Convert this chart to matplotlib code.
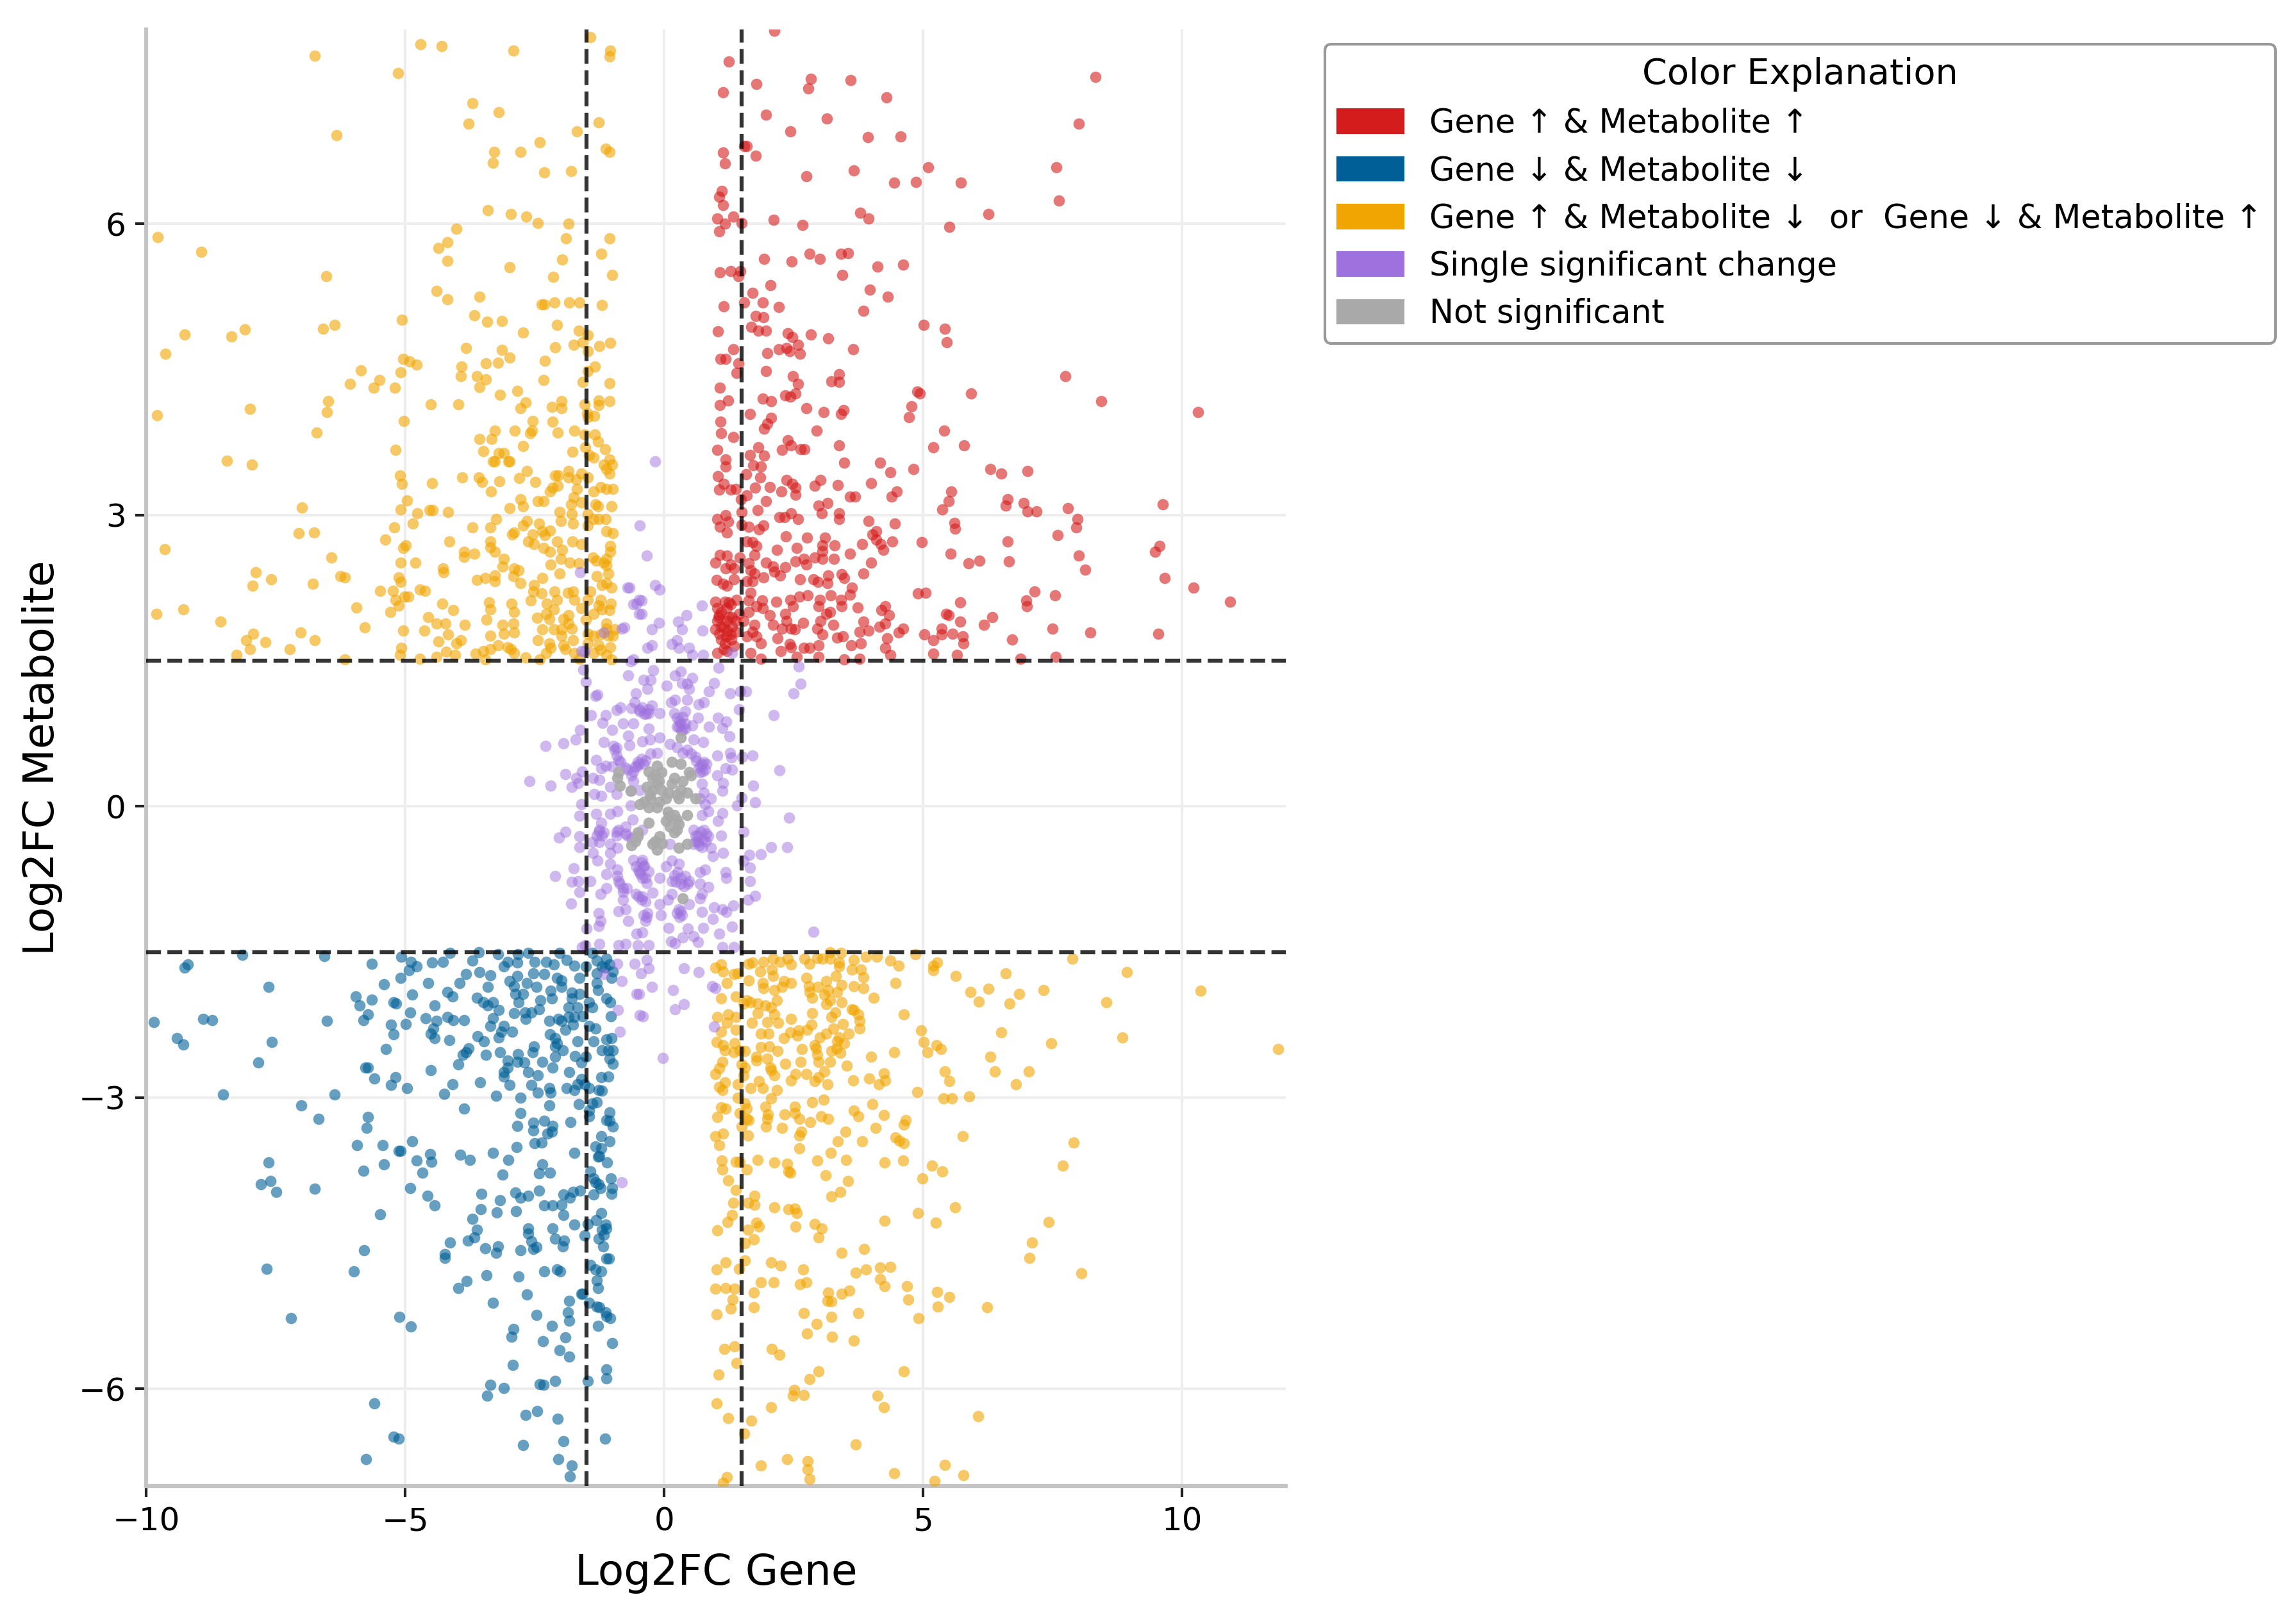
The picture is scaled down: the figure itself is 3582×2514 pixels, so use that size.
import numpy as np
import matplotlib
matplotlib.use("Agg")
import matplotlib.pyplot as plt
from matplotlib.patches import Patch

x_ticks = [-10, -5, 0, 5, 10]
y_ticks = [-6, -3, 0, 3, 6]
thresholds = [-1.5, 1.5]
legend_labels = ["Gene ↑ & Metabolite ↑", "Gene ↓ & Metabolite ↓",
                 "Gene ↑ & Metabolite ↓  or  Gene ↓ & Metabolite ↑",
                 "Single significant change", "Not significant"]

gene_up_met_up = [
(2.12,7.99),(1.25,7.67),(1.78,7.44),(2.83,7.49),(3.60,7.48),(2.78,7.39),(1.13,7.35),(8.33,7.51),(4.29,7.30),(1.96,7.12),(3.14,7.08),(8.00,7.03),(2.44,6.95),(3.93,6.89),(4.56,6.90),(1.54,6.80),(1.60,6.80),(1.14,6.73),(1.77,6.70),(1.17,6.62),(5.09,6.58),(7.57,6.58),(3.66,6.55),(2.74,6.49),(4.44,6.42),(4.86,6.43),(5.73,6.42),(1.11,6.34),(1.06,6.28),(7.62,6.24),(1.14,6.19),(3.79,6.11),(6.26,6.10),(1.02,6.05),(1.34,6.07),(3.94,6.05),(2.11,6.04),(1.17,6.00),(1.49,6.01),(2.67,5.99),(5.51,5.97),(1.06,5.92),
(2.81,5.69),(3.41,5.69),(3.55,5.70),(1.93,5.64),(3.00,5.64),(2.46,5.61),(4.12,5.56),(4.61,5.58),(1.07,5.50),(1.29,5.51),(1.47,5.51),(1.43,5.46),(3.44,5.47),(2.05,5.37),(3.97,5.32),(1.71,5.29),(4.31,5.25),(1.90,5.19),(1.55,5.19),(1.15,5.15),(2.21,5.14),(3.85,5.10),(1.77,5.05),(1.92,5.04),(5.01,4.96),(1.68,4.94),(5.42,4.92),(1.82,4.90),(1.97,4.90),(1.04,4.89),(2.39,4.87),(2.83,4.86),(2.47,4.83),(3.16,4.82),(5.45,4.78),(2.58,4.75),(1.34,4.71),(2.21,4.71),(2.36,4.72),(2.42,4.69),(3.65,4.71),(1.99,4.67),(2.62,4.66),(1.09,4.61),(1.19,4.61),(1.43,4.56),(1.97,4.48),(1.40,4.46),(3.37,4.45),(2.49,4.43),(3.23,4.38),(3.38,4.37),(7.74,4.43),(2.58,4.35),(1.07,4.31),(4.88,4.27),(4.93,4.25),(5.92,4.25),(2.34,4.23),(2.44,4.22),(2.54,4.25),(1.90,4.20),(2.07,4.17),(1.24,4.18),(1.07,4.13),(8.44,4.17),(4.78,4.12),(2.74,4.10),(3.08,4.06),(3.46,4.08),(3.41,4.04),(1.66,4.04),(10.31,4.06),(4.72,4.01),(2.06,4.00),(1.09,3.96),(1.99,3.94),(1.93,3.89),(2.94,3.87),(5.41,3.87),(1.10,3.84),(1.33,3.80),(2.39,3.77),(2.45,3.72),(2.63,3.68),(2.71,3.68),(3.38,3.72),(5.79,3.72),(5.19,3.70),(1.82,3.70),(2.27,3.67),(1.02,3.67),(1.93,3.61),(1.65,3.62),(1.19,3.57),(1.19,3.50),(3.48,3.54),(4.17,3.54),(1.72,3.51),(1.86,3.50),(4.81,3.47),(6.30,3.47),(6.50,3.43),(7.01,3.45),(4.37,3.44),(1.58,3.42),(1.04,3.40),(1.85,3.39),(2.36,3.36),(3.02,3.36),(2.47,3.32),(2.54,3.28),(3.99,3.33),(2.91,3.30),(3.35,3.31),(1.15,3.32),(1.06,3.26),(1.29,3.26),(1.38,3.27),(1.76,3.28),(2.04,3.29),(2.26,3.24),(2.54,3.21),(4.49,3.24),(5.54,3.24),(3.58,3.19),(3.68,3.19),(1.60,3.20),(1.48,3.16),(4.39,3.19),(1.96,3.14),(5.49,3.14),(6.63,3.16),(6.94,3.12),(9.62,3.11),(3.15,3.12),(2.98,3.10),(6.59,3.10),(5.37,3.06),(7.01,3.04),(7.19,3.04),(7.79,3.07),(1.81,3.05),(3.04,3.02),(3.37,3.02),(1.49,3.03),(2.45,3.02),
(2.22,2.98),(2.33,2.98),(2.58,2.96),(1.19,3.00),(1.02,2.96),(1.24,2.93),(3.38,2.96),(3.94,2.94),(7.98,2.96),(4.45,2.91),(5.60,2.92),(1.49,2.90),(1.63,2.88),(1.92,2.89),(1.83,2.85),(1.07,2.88),(5.62,2.86),(7.96,2.87),(1.21,2.82),(4.09,2.83),(4.02,2.80),(2.35,2.78),(2.76,2.77),(3.10,2.77),(7.59,2.79),(4.09,2.75),(4.40,2.73),(6.63,2.73),(4.97,2.72),(1.60,2.73),(1.70,2.72),(3.06,2.69),(3.29,2.69),(3.82,2.70),(4.18,2.70),(9.56,2.68),(9.48,2.62),(1.78,2.68),(2.56,2.66),(2.18,2.64),(4.23,2.64),(3.06,2.63),(5.53,2.60),(3.58,2.60),(8.00,2.58),(1.08,2.59),(1.21,2.58),(1.46,2.56),(1.74,2.59),(2.91,2.56),(3.06,2.55),(3.28,2.55),(2.70,2.55),(2.54,2.52),(1.97,2.51),(5.88,2.50),(6.09,2.53),(6.66,2.52),(3.99,2.51),(2.75,2.49),(1.63,2.50),(1.28,2.49),(2.10,2.47),(2.34,2.46),(8.13,2.44),(1.19,2.45),(1.35,2.45),(1.67,2.43),(0.99,2.51),(2.13,2.42),(1.74,2.40),(3.84,2.40),(2.24,2.38),(3.16,2.38),(3.43,2.39),(3.47,2.35),(9.66,2.35),(1.92,2.36),(2.62,2.34),(2.88,2.34),(1.01,2.33),(1.35,2.34),(1.60,2.32),(1.70,2.32),(1.14,2.29),(1.21,2.27),(2.97,2.31),(3.15,2.30),
(10.22,2.25),(10.92,2.11),(3.62,2.25),(7.15,2.21),(1.67,2.20),(4.90,2.19),(5.05,2.20),(7.54,2.17),(2.61,2.16),(2.77,2.17),(3.22,2.17),(3.58,2.18),(1.40,2.13),(1.63,2.12),(1.89,2.12),(2.16,2.11),(2.43,2.13),(3.01,2.13),(3.41,2.13),(6.99,2.12),(5.71,2.10),(0.99,2.11),(1.17,2.11),(1.28,2.08),(2.49,2.06),(2.98,2.06),(3.42,2.06),(3.73,2.05),(7.00,2.06),(1.78,2.06),(1.90,2.04),(1.03,2.04),(1.21,2.04),(4.27,2.06),(4.19,2.02),(1.63,2.00),(3.20,2.00),(2.34,1.98),(2.04,1.97),(1.06,1.97),(1.31,1.95),(5.44,1.98),(5.49,1.97),(6.33,1.95),(4.34,1.97),(3.13,1.98),(2.36,1.91),(3.02,1.91),(1.03,1.91),(1.21,1.91),(1.38,1.91),(1.53,1.91),(5.71,1.90),(2.68,1.89),(3.85,1.90),(4.27,1.88),(6.17,1.87),(2.10,1.87),(3.26,1.87),(1.74,1.87),(4.16,1.85),(1.10,1.85),(1.31,1.85),(0.99,1.82),(1.21,1.81),(4.61,1.83),(7.50,1.83),(8.22,1.79),(9.54,1.78),(2.95,1.83),(2.27,1.83),(2.45,1.83),(2.52,1.82),(1.70,1.80),(3.77,1.80),(3.95,1.81),(4.53,1.79),(5.35,1.83),(5.57,1.78),(5.35,1.77),(1.06,1.78),(1.28,1.77),(3.06,1.77),(5.02,1.77),(5.76,1.75),(1.60,1.75),(1.78,1.75),(2.19,1.73),(3.34,1.74),(3.45,1.75),(4.30,1.73),(5.19,1.71),(6.72,1.72),(5.77,1.68),(1.86,1.68),(1.17,1.68),(2.42,1.67),(2.98,1.66),(3.80,1.68),(3.61,1.66),(4.27,1.63),(2.70,1.63),(2.81,1.63),(2.45,1.64),(2.25,1.60),(1.03,1.58),(1.21,1.60),(1.67,1.58),(5.19,1.57),(5.65,1.56),(4.37,1.56),(7.56,1.54),(6.88,1.52),(1.87,1.52),(2.56,1.54),(2.98,1.54),(3.48,1.51),(3.77,1.52),
(1.05,1.95),(1.15,1.85),(1.25,1.95),(1.10,2.00),(1.20,1.75),(1.30,1.72),(1.15,1.62),(1.35,1.65),(1.25,2.10),(1.10,1.72),(1.38,1.80),(1.45,1.98),
]

gene_down_met_down = [
(-8.15,-1.53),(-6.56,-1.54),(-9.26,-1.66),(-9.20,-1.63),(-5.65,-1.62),(-5.07,-1.55),(-4.89,-1.60),(-4.78,-1.65),(-4.93,-1.69),(-4.48,-1.61),(-4.27,-1.60),(-4.14,-1.51),(-3.70,-1.59),(-3.58,-1.50),(-3.21,-1.52),(-2.82,-1.52),(-2.62,-1.51),(-2.02,-1.51),(-3.02,-1.60),(-3.09,-1.65),(-2.84,-1.61),(-2.50,-1.60),(-2.28,-1.60),(-2.13,-1.63),(-1.88,-1.58),(-1.73,-1.64),(-1.51,-1.65),(-1.30,-1.59),(-1.11,-1.57),(-1.20,-1.65),(-1.05,-1.63),(-1.14,-1.66),(-1.39,-1.51),(-3.83,-1.73),(-3.56,-1.71),(-3.35,-1.74),(-5.09,-1.77),(-5.41,-1.83),(-4.55,-1.82),(-7.64,-1.86),(-3.95,-1.82),(-3.40,-1.86),(-2.84,-1.75),(-2.99,-1.80),(-2.65,-1.82),(-2.53,-1.72),(-2.31,-1.73),(-2.07,-1.77),(-1.98,-1.79),(-1.64,-1.77),(-1.30,-1.72),(-0.99,-1.70),(-1.02,-1.77),(-2.90,-1.85),(-2.47,-1.86),(-2.19,-1.90),(-1.98,-1.86),(-1.30,-1.82),(-1.28,-1.89),(-1.79,-1.92),(-1.64,-1.93),(-4.86,-1.94),(-4.19,-1.91),(-4.09,-1.96),(-2.87,-1.93),(-2.73,-1.93),(-2.17,-1.98),(-3.61,-1.97),(-5.96,-1.96),(-5.64,-1.99),(-5.22,-2.02),(-5.18,-2.03),(-3.49,-2.02),(-3.30,-2.02),(-3.40,-2.05),(-2.81,-2.02),(-2.39,-2.00),(-1.79,-1.98),(-1.45,-2.02),(-1.39,-2.07),(-1.11,-1.98),(-1.04,-2.02),(-5.88,-2.05),(-4.43,-2.05),(-4.90,-2.12),(-3.19,-2.10),(-2.90,-2.13),(-2.69,-2.12),(-2.56,-2.12),(-2.41,-2.09),(-1.85,-2.07),(-1.67,-2.07),(-1.57,-2.16),(-5.72,-2.14),(-5.81,-2.20),(-6.51,-2.21),(-9.85,-2.22),(-8.90,-2.19),(-8.73,-2.20),(-4.61,-2.18),(-4.19,-2.17),(-4.07,-2.20),(-3.86,-2.20),(-3.30,-2.18),(-2.67,-2.19),(-2.22,-2.21),(-2.04,-2.19),(-1.98,-2.21),(-1.85,-2.17),(-1.73,-2.17),(-1.03,-2.16),(-4.99,-2.24),(-5.27,-2.25),(-4.40,-2.21),(-3.36,-2.26),(-3.10,-2.26),(-4.46,-2.29),(-4.51,-2.34),(-5.23,-2.35),(-4.43,-2.39),(-3.15,-2.32),(-2.93,-2.32),(-1.76,-2.25),(-1.91,-2.30),(-1.45,-2.26),(-1.33,-2.29),(-3.60,-2.37),(-3.48,-2.42),(-3.19,-2.38),(-4.15,-2.41),(-2.21,-2.35),(-2.10,-2.39),(-2.07,-2.44),(-1.67,-2.42),(-1.36,-2.42),(-1.02,-2.39),(-1.11,-2.40),(-9.40,-2.39),(-9.28,-2.45),(-7.57,-2.43),(-5.37,-2.50),(-3.77,-2.49),(-3.83,-2.53),(-3.89,-2.56),(-2.51,-2.47),(-2.10,-2.47),(-1.96,-2.51),(-1.20,-2.51),(-1.08,-2.51),(-0.99,-2.51),(-3.44,-2.56),(-3.17,-2.53),(-2.82,-2.55),(-2.54,-2.53),(-1.72,-2.57),(-1.51,-2.58),(-2.10,-2.58),(-1.05,-2.60),(-7.83,-2.64),(-3.98,-2.66),(-3.02,-2.62),(-2.84,-2.63),(-2.70,-2.64),(-2.35,-2.63),(-1.60,-2.64),(-0.99,-2.65),(-5.77,-2.69),(-5.72,-2.69),(-2.15,-2.69),(-3.02,-2.69),(-4.51,-2.72),(-3.10,-2.74),(-2.62,-2.74),(-1.83,-2.74),(-3.10,-2.78),(-2.44,-2.77),(-5.59,-2.80),(-5.19,-2.79),(-1.22,-2.79),(-1.08,-2.78),(-3.55,-2.84),(-4.09,-2.86),(-5.27,-2.87),(-2.99,-2.87),(-2.56,-2.87),(-1.60,-2.81),(-1.67,-2.86),(-1.54,-2.86),(-4.97,-2.90),(-2.22,-2.90),(-1.88,-2.90),(-1.73,-2.92),(-1.45,-2.90),(-1.27,-2.92),(-1.20,-2.93),(-8.52,-2.97),(-6.36,-2.97),(-4.25,-2.96),(-3.24,-2.98),(-2.44,-2.95),(-2.19,-2.95),
(-2.78,-3.00),(-1.65,-3.07),(-1.39,-3.06),(-1.30,-3.05),(-2.22,-3.08),(-7.01,-3.08),(-3.86,-3.11),(-1.45,-3.13),(-2.78,-3.16),(-1.06,-3.15),(-1.45,-3.19),(-5.72,-3.20),(-1.11,-3.23),(-1.05,-3.24),(-6.67,-3.22),(-2.31,-3.24),(-1.81,-3.25),(-2.53,-3.26),(-2.83,-3.29),(-2.16,-3.29),(-5.74,-3.31),(-0.99,-3.30),(-2.53,-3.34),(-2.17,-3.35),(-2.25,-3.37),(-1.22,-3.40),(-4.86,-3.45),(-5.93,-3.49),(-5.44,-3.49),(-1.05,-3.45),(-2.50,-3.47),(-2.36,-3.46),(-2.85,-3.51),(-1.33,-3.50),(-1.22,-3.52),(-5.12,-3.55),(-5.09,-3.55),(-3.30,-3.57),(-4.52,-3.58),(-1.73,-3.57),(-3.94,-3.59),(-1.28,-3.61),(-1.25,-3.60),(-3.01,-3.64),(-3.75,-3.64),(-4.78,-3.65),(-4.49,-3.66),(-7.64,-3.67),(-5.41,-3.69),(-1.10,-3.67),(-2.35,-3.69),(-5.80,-3.75),(-1.42,-3.76),(-4.67,-3.77),(-2.42,-3.78),(-2.21,-3.77),(-3.12,-3.79),(-1.36,-3.83),(-1.03,-3.83),(-1.33,-3.87),(-1.27,-3.89),(-7.60,-3.86),(-7.78,-3.89),(-4.90,-3.93),(-6.75,-3.94),(-1.23,-3.93),(-1.00,-3.93),(-7.49,-3.97),(-3.53,-3.99),(-2.87,-3.98),(-2.77,-4.03),(-2.62,-4.01),(-2.42,-3.96),(-1.76,-3.97),(-1.62,-3.96),(-1.94,-4.00),(-1.82,-4.03),(-1.36,-4.00),(-1.02,-3.99),(-4.57,-4.01),(-4.43,-4.11),(-3.17,-4.06),(-2.31,-4.11),(-2.15,-4.11),(-1.98,-4.10),(-3.54,-4.15),(-3.23,-4.18),(-2.86,-4.17),(-5.48,-4.20),(-1.95,-4.21),(-1.22,-4.19),(-3.70,-4.25),(-1.31,-4.26),(-1.73,-4.31),(-1.48,-4.30),(-1.13,-4.31),(-2.62,-4.35),(-2.15,-4.35),(-3.61,-4.36),(-1.20,-4.36),(-1.11,-4.35),(-2.62,-4.40),(-1.17,-4.41),(-1.54,-4.42),(-1.27,-4.45),(-3.67,-4.44),(-3.79,-4.47),(-2.56,-4.48),(-2.11,-4.45),(-1.93,-4.47),(-4.13,-4.49),(-3.21,-4.53),(-3.46,-4.55),(-2.46,-4.54),(-2.53,-4.56),(-1.96,-4.53),(-1.18,-4.53),(-2.78,-4.57),(-5.79,-4.57),(-3.25,-4.60),(-4.23,-4.61),(-4.23,-4.65),(-1.11,-4.66),(-1.07,-4.66),(-1.43,-4.72),(-7.67,-4.76),(-2.07,-4.77),(-2.01,-4.79),(-2.32,-4.79),(-1.33,-4.77),(-1.22,-4.79),(-5.99,-4.79),(-3.43,-4.83),(-2.81,-4.84),(-3.81,-4.89),(-1.30,-4.88),(-3.97,-4.96),(-1.28,-4.96),(-2.65,-5.03),(-1.60,-5.02),(-1.57,-5.02),(-1.83,-5.09),(-3.31,-5.11),(-1.45,-5.11),(-1.30,-5.15),(-1.25,-5.16),(-1.86,-5.21),(-1.13,-5.21),(-2.47,-5.24),(-1.11,-5.25),(-1.04,-5.27),(-5.11,-5.26),(-7.20,-5.27),(-1.83,-5.30),(-4.89,-5.36),(-2.17,-5.35),(-1.28,-5.35),(-2.91,-5.38),(-2.95,-5.46),(-1.91,-5.47),(-2.34,-5.51),(-1.00,-5.53),(-2.02,-5.60),(-1.83,-5.67),(-2.92,-5.75),(-1.11,-5.80),(-1.11,-5.89),(-1.48,-5.92),(-2.10,-5.92),(-3.35,-5.96),(-2.40,-5.95),(-2.33,-5.96),(-3.09,-5.99),(-3.42,-6.07),(-5.60,-6.15),(-2.45,-6.23),(-2.68,-6.27),(-2.06,-6.31),(-5.22,-6.49),(-5.12,-6.51),(-1.14,-6.51),(-1.95,-6.54),(-2.72,-6.58),(-5.75,-6.72),(-2.04,-6.72),(-1.79,-6.79),(-1.82,-6.90),
]

opposite_upper_left = [
(-6.75,7.73),(-5.14,7.55),(-4.71,7.85),(-4.30,7.83),(-2.91,7.78),(-1.43,7.92),(-1.04,7.78),(-1.06,7.72),(-3.70,7.24),(-3.19,7.15),(-3.78,7.03),(-6.33,6.91),(-1.27,7.04),(-1.69,6.95),(-2.40,6.84),(-3.28,6.74),(-2.78,6.74),(-3.31,6.63),(-1.13,6.77),(-1.05,6.74),(-2.32,6.53),(-1.80,6.54),(-3.41,6.14),(-2.96,6.10),(-2.66,6.07),(-2.44,6.01),(-1.84,6.00),(-4.01,5.95),(-4.19,5.81),(-4.36,5.75),(-4.18,5.62),(-9.78,5.86),(-8.94,5.71),(-1.89,5.85),(-1.06,5.85),(-1.21,5.69),(-1.97,5.63),(-2.98,5.55),(-6.52,5.46),(-2.14,5.45),(-1.01,5.47),(-4.40,5.31),(-3.57,5.25),(-4.18,5.22),(-2.36,5.17),(-2.32,5.17),(-2.12,5.19),(-1.83,5.19),(-1.63,5.19),(-1.20,5.16),(-3.67,5.06),(-5.06,5.01),(-3.42,4.99),(-3.13,5.00),(-6.36,4.96),(-6.58,4.92),(-2.07,4.96),(-8.10,4.91),(-9.26,4.86),(-8.36,4.84),(-2.72,4.88),(-1.65,4.90),(-1.48,4.85),(-1.57,4.78),(-1.04,4.77),(-1.25,4.74),(-2.10,4.73),(-1.75,4.75),(-3.82,4.72),(-3.13,4.70),(-1.47,4.69),(-9.63,4.66),(-5.04,4.61),(-4.92,4.58),(-4.78,4.55),(-2.99,4.62),(-3.21,4.57),(-3.44,4.56),(-2.30,4.59),(-3.91,4.53),(-5.86,4.49),(-5.09,4.47),(-1.34,4.53),(-1.48,4.48),(-3.93,4.43),(-3.62,4.43),(-3.44,4.40),(-5.49,4.39),(-2.33,4.39),(-6.07,4.35),(-1.57,4.37),(-1.05,4.36),(-5.61,4.31),(-5.20,4.31),(-3.56,4.32),(-2.83,4.28),(-3.17,4.24),(-6.49,4.17),(-4.51,4.14),(-3.98,4.14),(-2.67,4.16),(-1.98,4.17),(-1.27,4.18),(-1.06,4.17),(-2.17,4.11),(-1.98,4.10),(-2.78,4.10),(-1.54,4.14),(-1.26,4.13),(-7.99,4.09),(-6.51,4.06),(-9.79,4.03),(-1.49,4.05),(-1.35,4.02),(-1.47,4.01),(-5.02,3.97),(-2.54,3.97),(-2.15,3.96),(-6.71,3.85),(-3.27,3.87),(-2.88,3.87),(-2.55,3.87),(-2.59,3.84),(-2.06,3.85),(-1.73,3.87),(-1.54,3.83),(-1.34,3.83),(-3.57,3.78),(-3.33,3.78),(-1.28,3.76),(-2.72,3.71),(-1.53,3.70),(-1.14,3.68),(-5.19,3.67),(-3.49,3.66),(-3.19,3.64),(-3.09,3.64),(-1.77,3.65),(-1.45,3.62),(-1.36,3.59),(-3.31,3.55),(-3.27,3.55),(-3.01,3.55),(-2.99,3.55),(-1.05,3.57),(-8.44,3.56),(-7.96,3.52),(-1.16,3.52),(-1.00,3.52),(-1.11,3.47),(-1.05,3.43),(-2.65,3.45),(-1.85,3.45),(-2.11,3.41),(-2.04,3.41),(-1.60,3.43),(-5.10,3.41),(-3.90,3.39),(-3.58,3.39),(-2.80,3.38),(-1.84,3.39),(-1.70,3.37),(-1.48,3.39),(-3.52,3.34),(-3.18,3.35),(-5.06,3.32),(-4.48,3.33),(-2.49,3.34),(-1.23,3.29),(-2.06,3.30),(-2.16,3.28),(-1.11,3.27),(-0.99,3.27),(-1.69,3.27),(-2.20,3.24),(-3.34,3.24),(-1.36,3.24),(-1.75,3.18),(-4.96,3.15),(-2.78,3.16),(-2.44,3.14),(-2.33,3.14),(-1.60,3.13),(-1.80,3.11),(-1.33,3.11),(-1.28,3.09),(-6.99,3.08),(-2.72,3.09),(-1.02,3.09),(-5.09,3.06),(-4.53,3.05),(-4.47,3.05),(-4.17,3.03),(-4.77,3.02),(-2.98,3.07),(-2.02,3.03),(-1.79,3.01),(-1.47,3.01),
(-3.24,2.96),(-1.99,2.94),(-1.76,2.91),(-1.36,2.96),(-1.13,2.96),(-1.27,2.96),(-4.85,2.91),(-2.65,2.94),(-2.42,2.91),(-2.73,2.89),(-5.21,2.87),(-3.70,2.87),(-3.36,2.87),(-1.47,2.89),(-6.76,2.82),(-7.06,2.81),(-2.94,2.80),(-2.90,2.82),(-2.35,2.83),(-2.21,2.84),(-1.11,2.83),(-0.99,2.81),(-2.54,2.80),(-2.30,2.79),(-5.38,2.75),(-4.15,2.73),(-3.36,2.73),(-2.07,2.73),(-2.62,2.73),(-2.52,2.70),(-1.77,2.73),(-1.60,2.70),(-4.99,2.69),(-5.04,2.66),(-9.64,2.65),(-3.35,2.67),(-3.27,2.62),(-2.33,2.66),(-2.21,2.62),(-1.97,2.64),(-1.04,2.68),(-1.04,2.62),(-3.86,2.62),(-3.86,2.57),(-3.66,2.60),(-1.99,2.55),(-1.38,2.56),(-1.31,2.53),(-6.42,2.56),(-3.10,2.55),(-3.12,2.47),(-1.11,2.55),(-1.16,2.51),(-5.09,2.51),(-4.80,2.51),(-2.19,2.49),(-1.82,2.51),(-1.65,2.50),(-1.11,2.48),(-1.08,2.40),(-4.27,2.45),(-4.26,2.41),(-2.90,2.45),(-2.81,2.43),(-7.88,2.41),(-2.02,2.40),(-3.27,2.38),(-2.91,2.37),(-6.25,2.37),(-6.16,2.36),(-5.12,2.36),(-7.59,2.34),(-3.46,2.35),(-3.62,2.33),(-3.27,2.32),(-2.35,2.35),(-1.30,2.37),(-5.09,2.31),(-6.78,2.29),(-7.94,2.27),(-2.77,2.30),(-2.52,2.28),(-1.11,2.30),(-1.20,2.28),(-1.02,2.25),(-5.48,2.22),(-5.24,2.22),(-4.72,2.23),(-4.62,2.22),(-2.53,2.21),(-2.36,2.19),(-2.12,2.21),(-1.86,2.20),(-1.76,2.21),(-1.43,2.21),(-5.01,2.16),(-4.94,2.16),(-5.19,2.13),(-2.57,2.12),(-2.07,2.13),(-1.73,2.13),(-1.47,2.13),(-1.23,2.13),(-4.28,2.09),(-3.38,2.10),(-2.95,2.09),(-2.27,2.09),(-5.12,2.07),(-1.60,2.04),(-1.03,2.09),(-1.27,2.07),(-1.20,2.03),(-5.94,2.05),(-9.28,2.03),(-3.36,2.03),(-2.13,2.03),(-4.07,2.02),(-5.29,2.00),(-9.80,1.98),(-2.90,2.00),(-1.36,1.98),(-1.05,2.02),(-4.56,1.95),(-2.45,1.94),(-2.28,1.98),(-1.85,1.97),(-1.94,1.93),(-2.22,1.93),(-4.39,1.88),(-4.22,1.88),(-3.43,1.92),(-1.51,1.92),(-1.11,1.88),(-8.56,1.90),(-3.85,1.87),(-3.12,1.87),(-2.91,1.88),(-1.85,1.88),(-1.11,1.83),(-5.78,1.84),(-2.35,1.82),(-2.13,1.82),(-1.98,1.82),(-1.79,1.83),(-5.04,1.81),(-4.63,1.81),(-7.02,1.79),(-3.10,1.78),(-2.90,1.79),(-1.48,1.78),(-0.96,1.82),(-7.93,1.78),(-4.17,1.77),(-3.36,1.76),(-1.98,1.76),(-1.36,1.76),(-1.23,1.77),(-1.08,1.76),(-0.99,1.76),(-8.07,1.71),(-6.74,1.71),(-4.36,1.70),(-3.92,1.71),(-2.44,1.71),(-1.76,1.71),(-7.70,1.69),(-4.01,1.68),(-2.22,1.68),(-3.21,1.66),(-3.02,1.64),(-1.94,1.66),(-1.48,1.68),(-1.27,1.66),(-1.04,1.64),(-8.00,1.62),(-7.23,1.62),(-5.07,1.63),(-3.36,1.62),(-3.49,1.60),(-2.96,1.62),(-2.19,1.63),(-1.91,1.62),(-1.23,1.61),(-4.21,1.59),(-3.64,1.57),(-2.90,1.58),(-2.28,1.58),(-1.73,1.58),(-1.36,1.58),(-1.11,1.56),(-8.25,1.56),(-5.10,1.56),(-4.40,1.54),(-4.04,1.56),(-6.17,1.51),(-4.72,1.52),(-2.67,1.53),(-2.40,1.51),(-3.46,1.51),(-1.64,1.52),(-1.02,1.51),
]

opposite_lower_right = [
(3.20,-1.50),(3.41,-1.51),(4.85,-1.52),(4.11,-1.55),(0.99,-1.66),(1.10,-1.63),(1.14,-1.70),(1.21,-1.82),(1.10,-1.98),(1.03,-2.17),(1.63,-1.62),(1.70,-1.61),(1.92,-1.60),(2.10,-1.57),(2.24,-1.60),(2.38,-1.57),(2.45,-1.63),(2.71,-1.57),(2.81,-1.62),(2.95,-1.56),(3.06,-1.57),(3.20,-1.57),(3.38,-1.61),(3.38,-1.65),(3.66,-1.58),(3.89,-1.55),(4.37,-1.59),(4.53,-1.64),(5.19,-1.64),(5.27,-1.61),(5.19,-1.69),(7.88,-1.57),(3.62,-1.68),(3.80,-1.68),(3.32,-1.75),(3.84,-1.76),(1.85,-1.70),(2.08,-1.68),(2.10,-1.75),(1.42,-1.72),(1.35,-1.73),(1.63,-1.79),(2.75,-1.77),(5.63,-1.75),(6.59,-1.72),(8.93,-1.71),(10.35,-1.90),(1.90,-1.82),(2.31,-1.80),(2.45,-1.82),(3.13,-1.80),(3.43,-1.84),(4.46,-1.82),(2.79,-1.85),(2.97,-1.86),(3.66,-1.85),(3.85,-1.87),(1.92,-1.87),(2.13,-1.89),(2.27,-1.86),(3.16,-1.89),(3.34,-1.91),(6.26,-1.88),(7.32,-1.89),(5.91,-1.91),(6.85,-1.93),(2.81,-1.91),(1.60,-2.00),(1.67,-2.02),(1.81,-2.03),(1.95,-2.05),(2.06,-2.07),(1.53,-2.03),(1.38,-1.96),(2.17,-2.00),(2.86,-1.97),(3.09,-1.94),(3.20,-2.00),(3.43,-2.02),(4.04,-1.97),(3.13,-2.04),(6.07,-2.01),(6.67,-2.03),(8.54,-2.02),(3.62,-2.09),(3.66,-2.10),(1.81,-2.13),(2.13,-2.14),(2.86,-2.13),(3.30,-2.12),(3.75,-2.14),(4.63,-2.14),(1.24,-2.14),(1.38,-2.17),(2.45,-2.19),(3.23,-2.17),(3.77,-2.21),(1.69,-2.23),(1.99,-2.22),(2.20,-2.23),(3.45,-2.24),(2.84,-2.25),(1.21,-2.23),(1.10,-2.32),(1.38,-2.30),(3.77,-2.29),(3.27,-2.29),(2.76,-2.30),(2.59,-2.31),(2.43,-2.33),(1.86,-2.34),(2.02,-2.34),(2.57,-2.36),(3.13,-2.34),(3.56,-2.34),(4.96,-2.31),(6.50,-2.33),(2.31,-2.39),(3.00,-2.38),(3.38,-2.38),(8.85,-2.38),(7.47,-2.44),(5.01,-2.43),(5.26,-2.46),(1.01,-2.43),(1.14,-2.46),(1.36,-2.44),(3.34,-2.42),(3.48,-2.44),(2.91,-2.46),(11.85,-2.50),(1.17,-2.51),(1.35,-2.53),(1.46,-2.51),(1.56,-2.52),(1.86,-2.48),(2.03,-2.47),(2.19,-2.52),(2.66,-2.50),(2.93,-2.49),(2.95,-2.56),(3.23,-2.52),(3.33,-2.49),(3.40,-2.54),(4.44,-2.53),(5.08,-2.53),(5.34,-2.50),(1.78,-2.58),(1.99,-2.60),(2.34,-2.65),(2.63,-2.63),(2.98,-2.63),(3.20,-2.63),(4.00,-2.58),(6.29,-2.58),(1.78,-2.62),(1.12,-2.63),(1.49,-2.66),(1.56,-2.69),(2.05,-2.69),(3.53,-2.67),(2.06,-2.72),(1.06,-2.70),(0.99,-2.76),(3.09,-2.73),(5.42,-2.73),(6.38,-2.73),(7.04,-2.73),(1.53,-2.77),(2.13,-2.77),(2.54,-2.76),(2.75,-2.76),(4.24,-2.75),(2.98,-2.79),(2.45,-2.82),(1.83,-2.83),(2.91,-2.83),(3.65,-2.82),(3.96,-2.80),(4.27,-2.82),(5.51,-2.83),(4.14,-2.86),(3.15,-2.86),(6.79,-2.86),(1.17,-2.84),(1.42,-2.86),(1.06,-2.89),(1.90,-2.90),(1.67,-2.90),(2.17,-2.92),(1.12,-2.92),(4.89,-2.94),
(1.42,-3.00),(2.06,-3.01),(3.08,-3.02),(5.39,-3.01),(5.55,-3.01),(5.89,-2.99),(2.86,-3.05),(1.56,-3.06),(1.60,-3.11),(1.95,-3.09),(1.10,-3.10),(1.19,-3.11),(2.52,-3.09),(4.02,-3.07),(3.66,-3.13),(1.46,-3.16),(2.00,-3.17),(2.32,-3.17),(2.52,-3.16),(3.75,-3.19),(4.24,-3.18),(3.03,-3.19),(1.02,-3.20),(1.60,-3.22),(1.63,-3.23),(1.99,-3.22),(2.61,-3.22),(2.82,-3.25),(3.16,-3.22),(4.66,-3.23),(4.62,-3.28),(1.49,-3.30),(1.97,-3.30),(2.27,-3.31),(4.08,-3.31),(3.50,-3.35),(2.64,-3.35),(0.99,-3.40),(1.14,-3.37),(1.62,-3.39),(2.61,-3.39),(4.46,-3.41),(5.76,-3.40),(4.54,-3.44),(3.35,-3.45),(3.82,-3.45),(4.62,-3.47),(7.91,-3.46),(1.06,-3.49),(2.61,-3.52),(3.22,-3.57),(1.80,-3.64),(3.51,-3.64),(1.11,-3.65),(1.38,-3.66),(1.46,-3.66),(2.95,-3.65),(4.25,-3.67),(4.61,-3.65),(2.12,-3.67),(2.37,-3.68),(7.70,-3.70),(5.17,-3.70),(1.12,-3.74),(1.60,-3.74),(2.40,-3.76),(2.43,-3.77),(5.37,-3.76),(3.11,-3.80),(4.99,-3.83),(3.55,-3.86),(1.24,-3.85),(1.38,-3.95),(3.40,-3.97),(1.74,-4.01),(3.23,-4.02),(1.33,-4.08),(1.62,-4.08),(1.74,-4.10),(2.12,-4.13),(5.62,-4.13),(2.40,-4.15),(2.52,-4.14),(2.56,-4.19),(4.90,-4.19),(1.31,-4.21),(1.22,-4.28),(4.26,-4.27),(7.42,-4.28),(5.25,-4.29),(1.78,-4.29),(1.83,-4.33),(2.90,-4.30),(2.54,-4.33),(3.04,-4.35),(1.62,-4.36),(1.02,-4.37),(2.98,-4.44),(1.73,-4.46),(1.56,-4.50),(7.10,-4.49),(3.86,-4.56),(3.43,-4.60),(7.05,-4.65),(1.56,-4.68),(1.18,-4.70),(2.07,-4.70),(2.25,-4.73),(4.17,-4.75),(4.36,-4.74),(1.01,-4.77),(1.44,-4.76),(2.68,-4.77),(3.89,-4.77),(8.05,-4.81),(3.70,-4.80),(4.17,-4.87),(1.86,-4.90),(2.11,-4.90),(2.62,-4.92),(2.74,-4.90),(4.25,-4.94),(4.69,-4.94),(0.99,-4.97),(1.18,-4.96),(1.36,-4.97),(1.73,-5.01),(3.16,-5.01),(3.43,-5.02),(3.57,-4.99),(5.27,-5.00),(5.51,-5.05),(1.32,-5.08),(3.15,-5.09),(3.23,-5.10),(4.71,-5.08),(5.28,-5.15),(6.23,-5.16),(1.73,-5.16),(1.29,-5.17),(1.01,-5.23),(2.70,-5.22),(3.75,-5.22),(3.23,-5.26),(4.91,-5.27),(2.94,-5.33),(2.76,-5.43),(3.24,-5.46),(3.66,-5.50),(1.36,-5.56),(1.16,-5.59),(2.08,-5.59),(2.22,-5.65),(1.40,-5.73),(2.98,-5.82),(4.63,-5.82),(1.05,-5.85),(2.81,-5.90),(2.51,-6.01),(2.49,-6.07),(2.69,-6.06),(4.12,-6.07),(1.01,-6.15),(2.06,-6.19),(4.24,-6.19),(6.06,-6.28),(1.24,-6.30),(1.68,-6.33),(1.55,-6.46),(3.70,-6.57),(2.37,-6.72),(2.77,-6.74),(1.87,-6.79),(5.42,-6.78),(2.77,-6.83),(4.44,-6.87),(5.77,-6.89),(1.21,-6.91),(2.81,-6.93),(5.22,-6.95),(1.14,-6.97),
]

single_significant = [
(-0.71,2.25),(-0.18,2.28),(-0.09,2.23),(-0.59,2.08),(-0.49,2.13),(-0.48,1.98),(-0.82,1.83),(-0.24,1.82),(-0.10,1.89),(-0.33,1.63),(-0.24,1.66),(0.73,2.07),(0.43,1.97),(0.27,1.90),(0.34,1.82),(0.74,1.81),(0.15,1.67),(0.24,1.71),(0.28,1.63),(0.48,1.63),(0.54,1.56),(0.75,1.56),(-1.60,1.60),(-0.64,1.49),(-1.16,1.79),(1.31,1.58),(-0.17,3.55),(-0.47,2.89),(-0.34,2.58),(-0.67,2.25),(-0.54,2.09),(-0.43,2.12),(-0.43,1.98),(-0.77,1.84),(-1.62,2.41),(-1.54,1.60),(-0.59,1.51),
(-1.56,1.41),(-0.69,1.35),(-0.21,1.40),(-0.40,1.30),(-0.26,1.30),(-0.32,1.21),(-1.51,1.28),(1.05,1.43),(2.59,1.44),(2.63,1.26),(2.50,1.16),(0.32,1.39),(0.21,1.35),(0.54,1.32),(0.34,1.27),(0.44,1.26),(0.48,1.21),(0.05,1.24),(0.96,1.27),(0.87,1.18),(1.27,1.16),(1.58,1.18),(1.47,1.18),(-1.29,1.15),(-1.33,1.14),(-0.55,1.16),(0.44,1.10),(0.21,1.10),(0.13,1.07),(0.66,1.05),(0.77,1.07),(-0.57,1.07),(-0.24,1.04),(-0.84,1.02),(-0.92,0.99),(-0.63,1.01),(-0.38,0.95),(-0.30,0.96),(-0.47,0.98),(-0.09,0.96),(0.19,0.96),(0.40,0.98),(1.45,1.00),(2.11,0.94),(-1.41,0.94),(-1.13,0.94),(-1.19,0.86),(0.65,0.91),(1.04,0.91),(1.20,0.87),(0.24,0.91),(0.32,0.85),(0.40,0.85),(-1.00,0.79),(-0.80,0.85),(-0.59,0.85),(-0.30,0.80),(0.87,0.82),(1.12,0.81),(0.54,0.83),(0.24,0.82),(0.36,0.79),(-1.62,0.79),(-1.71,0.69),(-1.94,0.65),(-2.29,0.62),(1.26,0.72),(0.57,0.69),(0.75,0.66),(-0.09,0.71),(-0.69,0.73),(-1.17,0.66),(-0.67,0.63),(-0.42,0.67),(-0.28,0.69),(-0.96,0.58),(-0.92,0.52),(0.11,0.64),(0.24,0.61),(0.44,0.58),(-1.31,0.48),(1.02,0.52),(1.27,0.55),(1.30,0.50),(1.51,0.51),(1.71,0.52),(-0.51,0.46),(-0.40,0.44),(-0.26,0.54),(-0.14,0.55),(0.61,0.51),(0.73,0.44),(0.79,0.38),(0.69,0.35),(-1.13,0.42),(-1.00,0.41),(-1.21,0.39),(-0.84,0.46),(-0.71,0.38),(-0.63,0.32),(0.52,0.54),(0.36,0.55),(2.23,0.37),(-1.91,0.33),(-1.58,0.36),(-1.70,0.29),(-1.66,0.24),(-2.60,0.26),(-2.19,0.21),(-1.79,0.20),(1.02,0.32),(1.18,0.39),(1.31,0.38),(1.14,0.24),(1.12,0.16),(1.72,0.21),(-1.37,0.29),(-1.25,0.27),(-0.59,0.26),(-0.47,0.17),(-1.04,0.20),(-0.65,0.16),(0.73,0.23),(0.77,0.14),(0.69,0.08),(-0.92,0.13),(-1.35,0.13),(-1.21,0.11),(1.49,0.09),(1.76,0.04),(1.41,0.01),(-1.60,0.02),(-0.65,0.01),(0.79,0.02),(0.90,0.08),
(-1.31,-0.08),(-1.64,-0.10),(-1.04,-0.08),(-0.90,-0.05),(1.12,-0.07),(0.85,-0.05),(0.73,-0.09),(2.41,-0.12),(-0.61,-0.14),(-1.21,-0.17),(-1.27,-0.26),(-1.17,-0.27),(-0.92,-0.26),(-0.75,-0.21),(1.04,-0.15),(1.53,-0.26),(-0.71,-0.30),(-0.63,-0.33),(-1.91,-0.26),(-2.03,-0.32),(-1.64,-0.31),(-1.64,-0.42),(1.10,-0.30),(0.57,-0.24),(0.65,-0.30),(0.77,-0.24),(0.85,-0.31),(-0.42,-0.24),(-1.39,-0.37),(-1.25,-0.37),(-1.04,-0.39),(-0.90,-0.43),(0.57,-0.39),(0.73,-0.42),(0.65,-0.37),(0.90,-0.43),(0.11,-0.39),(2.07,-0.42),(2.37,-0.42),(1.86,-0.49),(1.64,-0.50),(1.14,-0.48),(0.94,-0.51),(-1.37,-0.48),(-1.04,-0.48),(-1.29,-0.56),(-1.04,-0.59),(-0.59,-0.55),(-0.42,-0.55),(-0.38,-0.61),(-0.55,-0.62),(0.15,-0.56),(0.28,-0.59),(0.03,-0.62),(1.66,-0.63),(1.53,-0.56),(-1.75,-0.64),(-2.10,-0.72),(-1.42,-0.77),(-1.79,-0.78),(-1.66,-0.77),(1.18,-0.68),(1.20,-0.74),(0.79,-0.65),(-1.11,-0.70),(-0.90,-0.65),(-0.88,-0.77),(-0.47,-0.68),(-0.42,-0.74),(-0.30,-0.67),(-0.09,-0.74),(0.19,-0.71),(0.32,-0.74),(0.48,-0.77),(0.69,-0.68),(1.66,-0.77),(0.85,-0.83),(0.69,-0.80),(-0.80,-0.84),(-0.34,-0.79),(0.15,-0.77),(-1.64,-0.88),(-1.11,-0.84),(-1.23,-0.90),(-0.22,-0.89),(-0.55,-0.90),(-0.42,-0.93),(-0.36,-0.98),(0.15,-0.90),(0.73,-0.90),(0.69,-0.95),(1.75,-0.92),(1.62,-0.96),(-1.80,-1.00),(-0.80,-0.96),(-0.75,-1.06),(-0.88,-1.08),(-0.09,-1.01),(0.07,-0.96),(0.48,-1.01),(0.28,-1.06),(0.32,-1.08),(1.34,-1.02),(0.96,-1.04),(1.12,-1.06),(1.20,-1.09),(0.73,-1.09),(-1.27,-1.10),(-0.34,-1.14),(-0.07,-1.12),(-0.69,-1.18),(0.94,-1.16),(-1.23,-1.18),(-1.27,-1.23),(-1.50,-1.26),(0.09,-1.25),(0.46,-1.26),(0.75,-1.25),(1.31,-1.24),(2.88,-1.29),(-0.53,-1.31),(-0.42,-1.30),(1.06,-1.31),(0.36,-1.35),(0.13,-1.39),(0.65,-1.40),(0.57,-1.34),(0.21,-1.41),(1.12,-1.45),(1.35,-1.45),(-0.88,-1.43),(-0.75,-1.42),(-0.51,-1.43),(-0.30,-1.43),(-1.25,-1.42),(-1.58,-1.45),(-1.52,-1.43),
(-0.34,-1.58),(-0.90,-1.62),(-0.57,-1.62),(-0.30,-1.67),(-0.45,-1.72),(0.38,-1.67),(0.66,-1.71),(-0.82,-1.80),(-0.24,-1.86),(-0.54,-1.93),(0.17,-1.89),(0.92,-1.85),(-0.89,-2.10),(0.21,-2.09),(0.38,-2.04),(-0.47,-2.15),(-0.82,-3.87),(-0.85,-2.32),(-0.41,-2.16),(-0.49,-1.93),(-0.03,-2.59),(-1.17,-1.73),(0.99,-1.87),(0.96,-2.27),
(0.30,0.88),(0.36,0.92),(0.28,0.82),(0.40,0.80),(0.33,0.78),(-0.48,0.44),(-0.44,0.49),(-0.36,0.47),(-0.52,0.41),(-0.60,0.36),(-0.56,0.41),(0.70,0.42),(0.76,0.46),(0.66,0.40),(0.74,0.36),(0.82,0.44),(0.62,0.47),(-1.25,-0.24),(-1.20,-0.30),(-1.30,-0.30),(-0.92,-0.30),(-0.88,-0.24),(-0.75,-0.28),(0.70,-0.26),(0.75,-0.34),(0.60,-0.30),(0.68,-0.40),(0.80,-0.36),(0.60,-0.36),(0.82,-0.28),(-0.40,-0.62),(-0.46,-0.70),(-0.36,-0.74),(-0.50,-0.66),(-0.44,-0.58),(0.22,-0.78),(0.32,-0.80),(0.40,-0.72),(0.26,-0.68),(0.38,-0.82),(0.46,-0.80),(-0.85,-0.80),(-0.80,-0.88),(-0.90,-0.72),(-0.72,-0.84),(-0.40,-1.12),(-0.32,-1.10),(-0.36,-1.18),(-0.44,-0.96),(-0.50,-0.93),(0.30,-1.14),(0.25,-1.10),(0.34,-1.12),(-0.35,0.95),(-0.42,1.02),(-0.30,1.00),(-0.48,1.00),(-0.98,0.62),(-0.92,0.60),(-0.88,0.48),(-0.75,0.40),
]

not_significant = [
(0.32,0.71),(0.36,-0.95),(-0.88,0.35),(-0.90,0.29),(-0.86,0.21),(-0.65,0.16),(-0.14,0.42),(-0.30,0.36),(-0.22,0.29),(-0.34,0.20),(-0.05,0.35),(0.15,0.46),(0.32,0.44),(0.52,0.32),(0.48,0.35),(0.19,0.29),(0.15,0.23),(0.32,0.17),(0.44,0.14),(0.61,0.08),(-0.22,0.17),(-0.14,0.23),(-0.05,0.17),(-0.38,0.05),(-0.47,0.02),(-0.26,0.08),(-0.09,0.05),(0.03,0.08),(0.28,0.08),(-0.30,-0.01),(-0.14,-0.01),(0.07,-0.06),(0.19,-0.09),(0.44,-0.09),(0.28,-0.18),(0.11,-0.21),(0.19,-0.27),(0.03,-0.15),(0.24,-0.24),(-0.30,-0.17),(-0.51,-0.27),(-0.51,-0.31),(-0.09,-0.31),(-0.22,-0.39),(-0.14,-0.45),(-0.63,-0.40),(0.28,-0.43),(0.44,-0.39),(-0.18,0.32),(-0.10,0.26),(-0.28,0.12),(0.08,0.14),(0.24,0.12),(0.36,0.26),(0.10,-0.10),(0.24,-0.14),(-0.18,-0.36),(-0.04,-0.38),(-0.56,-0.36),
]

RED = "#D41C1C"
BLUE = "#005F96"
ORANGE = "#F0A500"
PURPLE = "#9E72DE"
GRAY = "#A9A9A9"

W, H = 3582, 2514
fig = plt.figure(figsize=(W / 300, H / 300), dpi=300)
ax = fig.add_axes([228 / W, 1 - 2319 / H, (2006 - 228) / W, (2319 - 46) / H])

groups = [(gene_up_met_up, RED, 0.6),
          (gene_down_met_down, BLUE, 0.6),
          (opposite_upper_left, ORANGE, 0.6),
          (opposite_lower_right, ORANGE, 0.6),
          (single_significant, PURPLE, 0.5),
          (not_significant, GRAY, 0.9)]
for pts, col, alpha in groups:
    arr = np.array(pts)
    ax.scatter(arr[:, 0], arr[:, 1], s=18, c=col, alpha=alpha, linewidths=0, zorder=3)

for t in thresholds:
    ax.axhline(t, color="black", ls="--", lw=1.5, alpha=0.8, zorder=4)
    ax.axvline(t, color="black", ls="--", lw=1.5, alpha=0.8, zorder=4)

ax.set_xlim(-10, 12)
ax.set_ylim(-7, 8)
ax.set_xticks(x_ticks)
ax.set_yticks(y_ticks)
ax.grid(True, color="#eeeeee", lw=1.0, zorder=0)
ax.set_axisbelow(True)
for s in ("top", "right"):
    ax.spines[s].set_visible(False)
for s in ("left", "bottom"):
    ax.spines[s].set_color("#c4c4c4")
    ax.spines[s].set_linewidth(1.5)
ax.tick_params(labelsize=12, width=1.0, length=4, color="#222222")
ax.set_xlabel("Log2FC Gene", fontsize=15.9, labelpad=6)
ax.set_ylabel("Log2FC Metabolite", fontsize=15.9, labelpad=6)

handles = [Patch(color=c, label=l) for c, l in zip([RED, BLUE, ORANGE, PURPLE, GRAY], legend_labels)]
leg = ax.legend(handles=handles, title="Color Explanation", fontsize=12.2, title_fontsize=13.4,
                loc="upper left", bbox_to_anchor=(2067 / W, 1 - 69 / H),
                bbox_transform=fig.transFigure, borderaxespad=0, frameon=True, fancybox=True,
                edgecolor="#999999", framealpha=1, labelspacing=0.48)
leg.get_frame().set_linewidth(1.0)

fig.savefig("out.png", dpi=300)
